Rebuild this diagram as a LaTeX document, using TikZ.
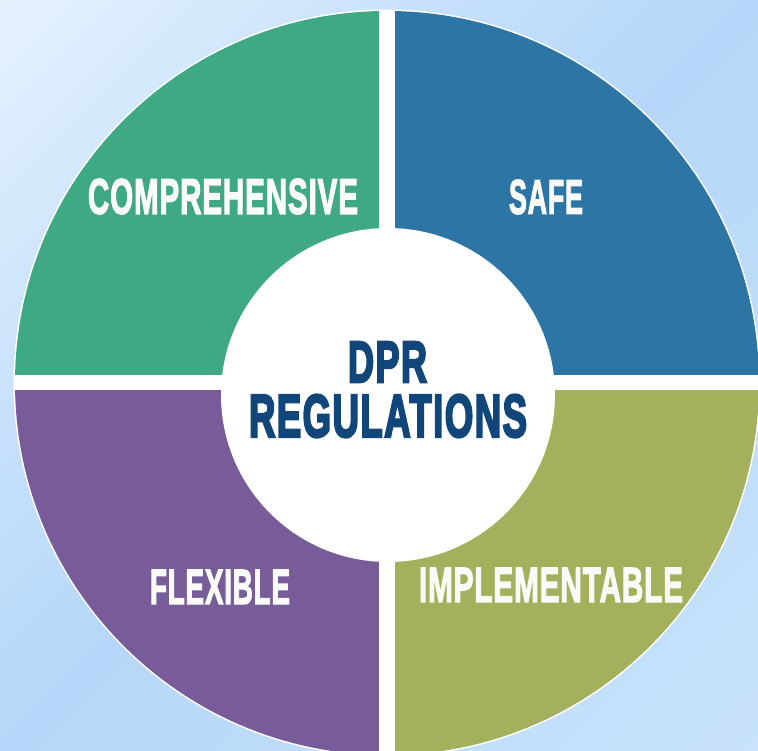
\documentclass[tikz,border=0pt]{standalone}
\usepackage{fontspec}
\usepackage{graphicx}
\setmainfont{Liberation Sans}
\newfontfamily\labfont[FakeBold=3,LetterSpace=3]{Liberation Sans Bold}
\newfontfamily\hubfont[FakeBold=4.5,LetterSpace=4]{Liberation Sans Bold}
\newcommand{\lab}[3]{\resizebox{#1pt}{#2pt}{\labfont #3}}
\newcommand{\hub}[3]{\resizebox{#1pt}{#2pt}{\hubfont #3}}
\definecolor{cgreen}{HTML}{3FA984}
\definecolor{cblue}{HTML}{2C75A4}
\definecolor{cpurple}{HTML}{785C9A}
\definecolor{colive}{HTML}{A4B05C}
\definecolor{cnavy}{HTML}{10467A}
\definecolor{bgstopa}{HTML}{E6F2FE}
\definecolor{bgstopb}{HTML}{D0E6FC}
\definecolor{bgstopc}{HTML}{C6E0FB}
\definecolor{bgstopd}{HTML}{B6D7F9}
\definecolor{bgstope}{HTML}{BEDCF9}
\definecolor{bgstopf}{HTML}{C8E3FA}
\definecolor{offw}{HTML}{FAFBF8}
\pgfdeclareverticalshading{bgdiag}{100bp}{
  color(0bp)=(bgstopf); color(25bp)=(bgstopf); color(40bp)=(bgstope);
  color(50bp)=(bgstopd); color(60bp)=(bgstopc); color(65bp)=(bgstopb);
  color(75bp)=(bgstopa); color(100bp)=(bgstopa)}
\tikzset{
  seglabel/.style={text=offw,inner sep=0pt,outer sep=0pt,anchor=center},
  hublabel/.style={text=cnavy,inner sep=0pt,outer sep=0pt,anchor=center}
}
\begin{document}
\begin{tikzpicture}[x=1pt,y=-1pt]
\useasboundingbox (0,0) rectangle (758,751);
\begin{scope}
  \clip (0,0) rectangle (758,751);
  \shade[shading=bgdiag,transform canvas={rotate around={45:(379,375.5)}}] (-155,-158.5) rectangle (913,909.5);
  \fill[white] (387,383) circle[radius=373.5pt];
  \begin{scope}
    \clip (387,383) circle[radius=372pt];
    \fill[cgreen] (0,0) rectangle (379,375);
    \fill[cblue] (395,0) rectangle (758,375);
    \fill[cpurple] (0,390) rectangle (379,751);
    \fill[colive] (395,390) rectangle (758,751);
  \end{scope}
  \fill[white] (388,395) circle[radius=167pt];
\end{scope}
\node[seglabel] (comp) at (223,196.5) {\lab{270}{35}{COMPREHENSIVE}};
\node[seglabel] (safe) at (546,197) {\lab{74}{34}{SAFE}};
\node[seglabel] (flex) at (220,587) {\lab{140}{34}{FLEXIBLE}};
\node[seglabel] (impl) at (551,585) {\lab{264}{34}{IMPLEMENTABLE}};
\node[hublabel] (dpr) at (387.5,362) {\hub{79}{40}{DPR}};
\node[hublabel] (reg) at (388,416) {\hub{278}{42}{REGULATIONS}};
\end{tikzpicture}
\end{document}
